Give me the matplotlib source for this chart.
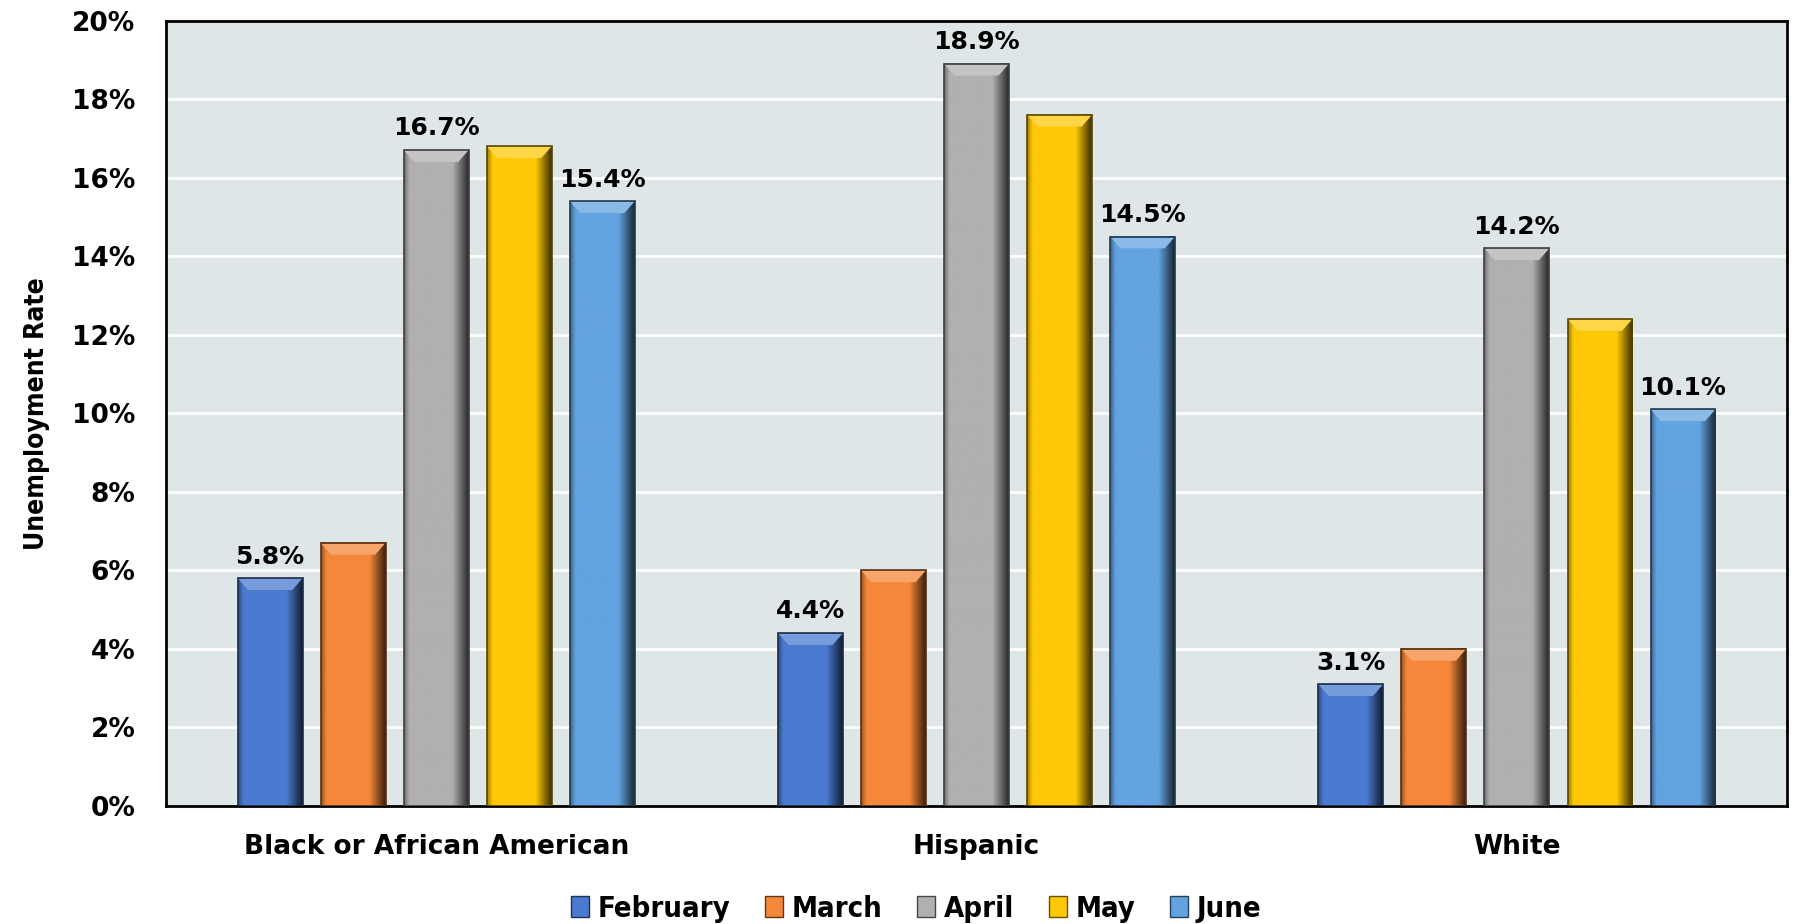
import matplotlib
matplotlib.use('Agg')

import numpy as np
import matplotlib.pyplot as plt
from matplotlib.patches import Patch, Polygon
from matplotlib.colors import to_rgb

# data
groups = ['Black or African American', 'Hispanic', 'White']
months = ['February', 'March', 'April', 'May', 'June']
values = {
    'February': [5.8, 4.4, 3.1],
    'March': [6.7, 6.0, 4.0],
    'April': [16.7, 18.9, 14.2],
    'May': [16.8, 17.6, 12.4],
    'June': [15.4, 14.5, 10.1],
}
labelled = ['February', 'April', 'June']
colors = ['#4A7BD0', '#F5873A', '#B0B0B0', '#FFC807', '#62A3E0']
yticks = [0, 2, 4, 6, 8, 10, 12, 14, 16, 18, 20]

tick_font = ['DejaVu Sans']

fig = plt.figure(figsize=(17.93, 9.24), dpi=100)
ax = fig.add_axes([0.0926, 0.1277, 0.9041, 0.85])
ax.set_facecolor('#DFE6E8')

x = np.arange(len(groups))
step = 0.1537
width = 0.12


def shade_bar(ax, x0, w, h, base):
    """Fake the bevelled 3D bar look: horizontal shading + light top bevel."""
    rgb = np.array(to_rgb(base))
    t = np.linspace(0, 1, 60)
    f = np.ones_like(t)
    f = np.where(t < 0.08, 0.65 + 0.35 * t / 0.08, f)
    f = np.where(t > 0.75, 1.0 - 0.75 * (t - 0.75) / 0.25, f)
    img = np.clip(rgb[None, None, :] * f[None, :, None], 0, 1)
    ax.imshow(img, extent=(x0, x0 + w, 0, h), aspect='auto',
              interpolation='bilinear', zorder=3)
    bev = 0.3
    ins = w * 0.16
    light = rgb + (1 - rgb) * 0.25
    top = Polygon([(x0, h), (x0 + w, h), (x0 + w - ins, h - bev), (x0 + ins, h - bev)],
                  closed=True, facecolor=light, edgecolor='none', zorder=4)
    ax.add_patch(top)
    edge = Polygon([(x0, 0), (x0, h), (x0 + w, h), (x0 + w, 0)], closed=True,
                   facecolor='none', edgecolor=rgb * 0.35, linewidth=1.2, zorder=5)
    ax.add_patch(edge)


for i, (m, c) in enumerate(zip(months, colors)):
    pos = x + (i - 2) * step
    bars = ax.bar(pos, values[m], width, color=c, zorder=2)
    for b in bars:
        shade_bar(ax, b.get_x(), b.get_width(), b.get_height(), c)
    if m in labelled:
        for p, v in zip(pos, values[m]):
            ax.annotate(f'{v:.1f}%', (p, v), xytext=(0, 7), textcoords='offset points',
                        ha='center', va='bottom', fontsize=18, fontweight='bold',
                        family=tick_font, zorder=6)

ax.set_xlim(-0.5, 2.5)
ax.set_ylim(0, 20)
ax.set_yticks(yticks)
ax.set_yticklabels([f'{v}%' for v in yticks], fontsize=19, fontweight='bold', family=tick_font)
ax.set_xticks(x)
ax.set_xticklabels(groups, fontsize=19, fontweight='bold', family=tick_font)
ax.tick_params(axis='both', length=0)
ax.tick_params(axis='y', pad=22)
ax.tick_params(axis='x', pad=20)
ax.grid(axis='y', color='white', linewidth=2, zorder=1)
ax.set_axisbelow(True)
for s in ax.spines.values():
    s.set_color('black')
    s.set_linewidth(2)

ax.set_ylabel('Unemployment Rate', fontsize=19, fontweight='bold', family='DejaVu Sans',
              fontstretch='condensed', labelpad=16)

handles = [Patch(facecolor=c, edgecolor=np.array(to_rgb(c)) * 0.4, label=m)
           for m, c in zip(months, colors)]
leg = fig.legend(handles=handles, loc='lower center', bbox_to_anchor=(0.511, -0.027), ncol=5,
                 frameon=False, handlelength=0.6, handleheight=0.75, handletextpad=0.3,
                 columnspacing=1.2,
                 prop={'family': 'DejaVu Sans', 'weight': 'bold', 'size': 21,
                       'stretch': 'condensed'})

fig.savefig('out.png', dpi=100, facecolor='white')
